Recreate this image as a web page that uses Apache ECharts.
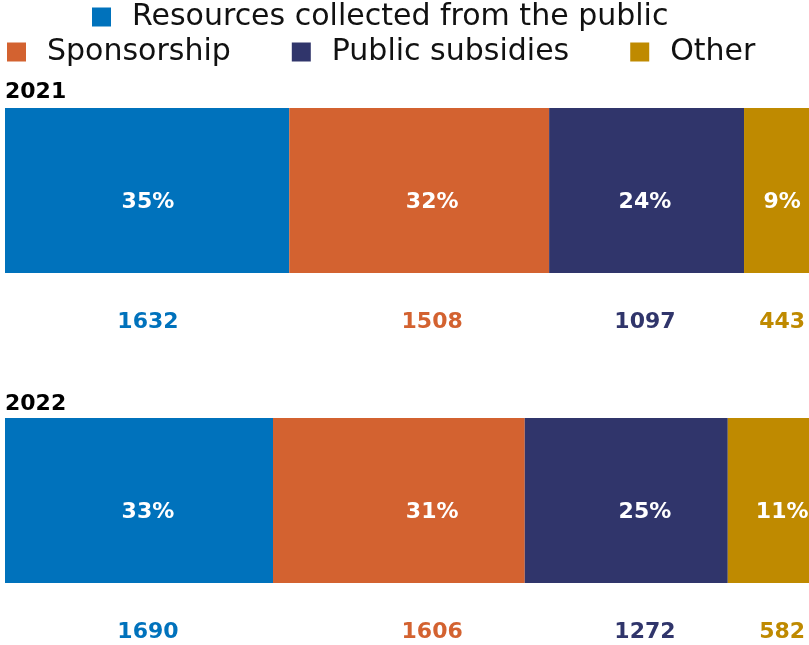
<!DOCTYPE html>
<html>
<head>
<meta charset="utf-8">
<script src="https://cdn.jsdelivr.net/npm/echarts@6/dist/echarts.min.js"></script>
<style>
html,body{margin:0;padding:0;background:#fff;}
#chart{width:809px;height:645px;}
</style>
</head>
<body>
<div id="chart"></div>
<script>
// ---- data ----
var years = ['2021', '2022'];
var categories = ['Resources collected from the public', 'Sponsorship', 'Public subsidies', 'Other'];
var share2021 = [35, 32, 24, 9];        // % of total (bar segment widths and labels)
var share2022 = [33, 31, 25, 11];
var amount2021 = [1632, 1508, 1097, 443];
var amount2022 = [1690, 1606, 1272, 582];
// column positions (in % of the bar axis) where the labels are written
var labelColumns = [17.6, 52.6, 78.8, 95.7];

var colors = ['#0072BC', '#D36230', '#30356B', '#BF8A00'];
var shares = [share2021, share2022];
var amounts = [amount2021, amount2022];

var FONT = 'DejaVu Sans';
var gridTops = [108, 418];
var barH = 165;
var pctRow = 0.57, valRow = 1.297;
var visibleMax = 99; // the bar runs slightly past the right edge of the picture

var grids = [], xAxes = [], yAxes = [], series = [], titles = [];
years.forEach(function (yr, g) {
  grids.push({left: 5, top: gridTops[g], right: 0, height: barH, containLabel: false});
  xAxes.push({type: 'value', gridIndex: g, min: 0, max: visibleMax, show: false});
  yAxes.push({type: 'category', gridIndex: g, data: [yr], show: false});
  titles.push({text: yr, left: 0, top: gridTops[g] - 32 + g * 2, padding: [5, 5, 5, 5],
    textStyle: {fontFamily: FONT, fontWeight: 'bold', fontSize: 22, color: '#000'}});
});
years.forEach(function (yr, g) {
  yAxes.push({type: 'value', gridIndex: g, min: 0, max: 1, inverse: true, show: false});
});

function labelSeries(g, row, textOf, colorOf) {
  return {
    type: 'scatter', xAxisIndex: g, yAxisIndex: 2 + g, symbolSize: 0, clip: false, silent: true,
    z: 10, itemStyle: {opacity: 1},
    data: categories.map(function (c, k) {
      return {value: [labelColumns[k], row],
        label: {show: true, position: 'inside', formatter: textOf(k), opacity: 1,
          color: colorOf(k), fontFamily: FONT, fontWeight: 'bold', fontSize: 22}};
    })
  };
}

years.forEach(function (yr, g) {
  categories.forEach(function (cat, k) {
    series.push({
      name: cat, type: 'bar', xAxisIndex: g, yAxisIndex: g, stack: 'total' + g,
      barWidth: '100%', barCategoryGap: 0,
      itemStyle: {color: colors[k]},
      data: [shares[g][k]]
    });
  });
  series.push(labelSeries(g, pctRow, function (k) { return shares[g][k] + '%'; },
    function () { return '#fff'; }));
  series.push(labelSeries(g, valRow, function (k) { return String(amounts[g][k]); },
    function (k) { return colors[k]; }));
});

var legendText = {fontFamily: FONT, fontSize: 30, color: '#111', padding: [0, 0, 0, 16]};
var chart = echarts.init(document.getElementById('chart'), null, {renderer: 'canvas'});
chart.setOption({
  animation: false,
  color: colors,
  title: titles,
  legend: [
    {data: [categories[0]], left: 87, top: -3, icon: 'rect', itemWidth: 19, itemHeight: 19,
      itemGap: 61, textStyle: legendText, selectedMode: false},
    {data: categories.slice(1), left: 2, top: 32, icon: 'rect', itemWidth: 19, itemHeight: 19,
      itemGap: 61, textStyle: legendText, selectedMode: false}
  ],
  grid: grids,
  xAxis: xAxes,
  yAxis: yAxes,
  series: series
});
</script>
</body>
</html>
